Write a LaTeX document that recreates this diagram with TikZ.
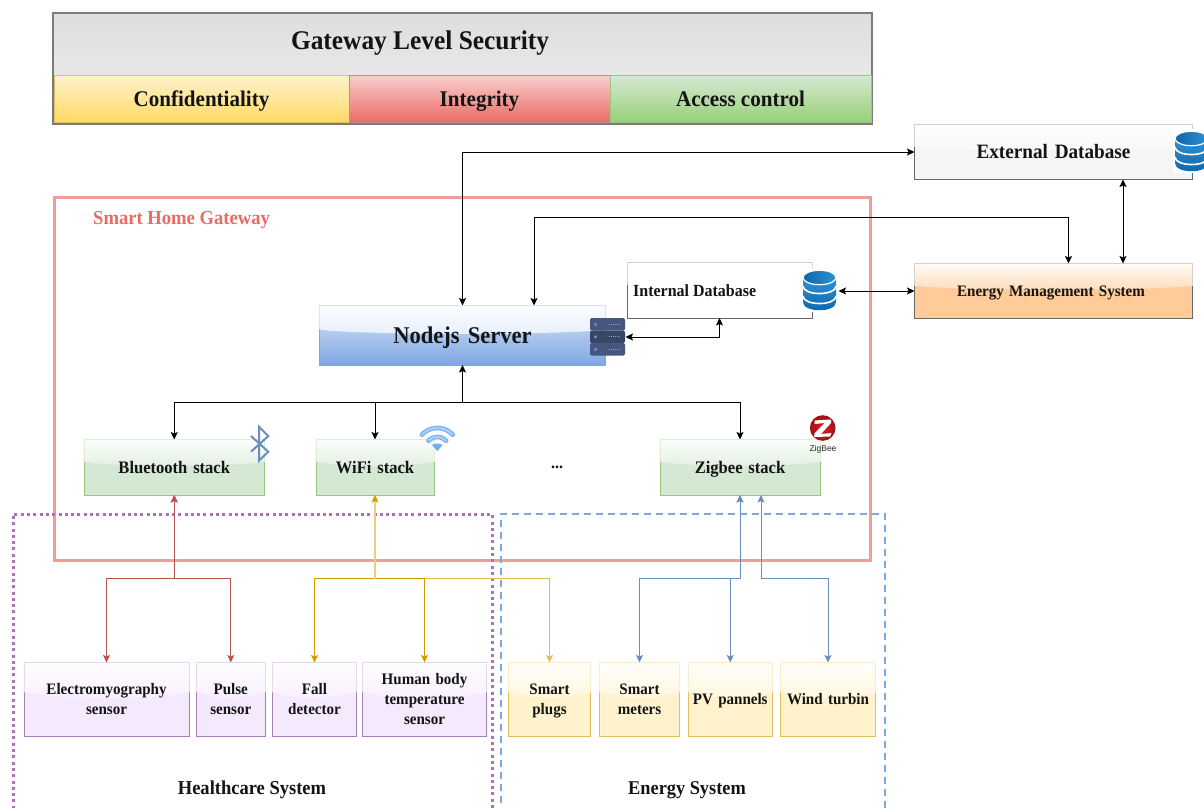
\documentclass[tikz,border=0pt]{standalone}
\usepackage{fontspec}
\setmainfont{Liberation Serif}[FakeStretch=0.94]
\newfontfamily\zbfont{Liberation Sans}
\usetikzlibrary{arrows.meta,calc}
\definecolor{cRed}{HTML}{B85450}
\definecolor{cOrange}{HTML}{D79B00}
\definecolor{cBlue}{HTML}{6C8EBF}
\definecolor{cGate}{HTML}{F19C99}
\definecolor{cLabel}{HTML}{EA6B66}
\definecolor{cPurp}{HTML}{B070B8}
\definecolor{cDash}{HTML}{7EA6E0}
\definecolor{fPurp}{HTML}{F5E9FD}
\definecolor{bPurp}{HTML}{A680B8}
\definecolor{fYel}{HTML}{FFF2CC}
\definecolor{bYel}{HTML}{E3BE5C}
\definecolor{fGrn}{HTML}{D5E8D4}
\definecolor{bGrn}{HTML}{97C77F}
\definecolor{fBlu}{HTML}{DAE8FC}
\definecolor{fOra}{HTML}{FFCC99}
\definecolor{fGry}{HTML}{F5F5F5}
\definecolor{bGry}{HTML}{666666}
\definecolor{srvC}{HTML}{47567E}
\definecolor{srvD}{HTML}{7D85C7}
\definecolor{dbA}{HTML}{2E92D6}
\definecolor{dbB}{HTML}{0F64A8}
\definecolor{ffd}{HTML}{FFD966}
\definecolor{F8C}{HTML}{F8CECC}
\definecolor{EA6}{HTML}{EA6B66}
\definecolor{g97}{HTML}{97D077}
\definecolor{zbA}{HTML}{D8262C}
\definecolor{zbB}{HTML}{A00F15}
\definecolor{wfE}{HTML}{74AEEB}
\definecolor{wfI}{HTML}{A6CFF5}
\tikzset{
  x=1pt,y=-1pt,
  conn/.style={line width=1pt,{Stealth[length=7.5pt,width=7pt,inset=1.5pt]}-{Stealth[length=7.5pt,width=7pt,inset=1.5pt]}},
  oneway/.style={line width=1pt,-{Stealth[length=7.5pt,width=7pt,inset=1.5pt]}},
  bare/.style={inner sep=0pt,outer sep=0pt,align=center,text=black!92},
  lab/.style={inner sep=0pt,font=\fontsize{#1}{#1}\selectfont\bfseries,text=black!92},
}
% one line of text whose capitals are centred on the node
\newcommand{\Lx}[1]{\rule{0pt}{.66em}\smash{#1}}
% named box with a glass highlight over its upper part
\newcommand{\gbx}[9]{%
  \shade[top color=#6,bottom color=#7,draw=#8,line width=1pt] (#2,#3) rectangle (#4,#5);
  \pgfmathsetmacro\gy{#3+0.40*(#5-#3)}%
  \pgfmathsetmacro\gc{#3+0.50*(#5-#3)}%
  \shade[top color=#6!8,bottom color=#6!68]
    (#2-.7,#3-.7) -- (#4+.7,#3-.7) -- (#4+.7,\gy) .. controls (#4-30,\gc) and (#2+30,\gc) .. (#2-.7,\gy) -- cycle;
  \draw[#8!30,line width=1pt] (#2,\gy) -- (#2,#3) -- (#4,#3) -- (#4,\gy);
  \pgfmathsetmacro\bw{#4-#2}\pgfmathsetmacro\bh{#5-#3}%
  \node[bare,anchor=north west,minimum width=\bw pt,minimum height=\bh pt,font=\fontsize{#9}{1.25\dimexpr #9pt\relax}\selectfont\bfseries,text width=\bw pt,align=center,shape=rectangle] (#1) at (#2,#3) {\boxtext};
}
\newcommand{\dbicon}[2]{%
  \begin{scope}[shift={(#1,#2)}]
    \fill[white] (-19,-22) rectangle (19,22);
    \shade[top color=dbA,bottom color=dbB] (-16.5,-12) -- (-16.5,12) .. controls (-16.5,23) and (16.5,23) .. (16.5,12) -- (16.5,-12) -- cycle;
    \draw[white,line width=1.6pt] (-16.5,-4) .. controls (-16.5,6) and (16.5,6) .. (16.5,-4);
    \draw[white,line width=1.6pt] (-16.5,6) .. controls (-16.5,16) and (16.5,16) .. (16.5,6);
    \shade[left color=dbB,right color=dbA,draw=white,line width=1.2pt] (0,-12.5) ellipse [x radius=16.5,y radius=7.2];
  \end{scope}}
\begin{document}
\begin{tikzpicture}
\useasboundingbox (0,0) rectangle (1204,807);
\clip (0,0) rectangle (1204,807);
\fill[white] (0,0) rectangle (1204,807);

% containers
\draw[cGate,line width=3pt] (54,197.5) rectangle (870.5,560);
\node[lab=19.8,text=cLabel,anchor=west] (gwlab) at (93,217.5) {\Lx{Smart Home Gateway}};
\draw[cPurp,line width=3pt,dash pattern=on 3pt off 3.3pt] (13,815) -- (13,514) -- (492,514) -- (492,815);
\draw[cDash,line width=2pt,dash pattern=on 7pt off 5pt] (500.5,815) -- (500.5,514) -- (885,514) -- (885,815);
\node[lab=19.7] (hcs) at (252,788) {\Lx{Healthcare System}};
\node[lab=19.5] (ens) at (687,788) {\Lx{Energy System}};

% security panel
\shade[top color=black!13,bottom color=black!6,draw=black!52,line width=2pt] (53,13) rectangle (872,124);
\node[bare,font=\fontsize{27}{27}\selectfont\bfseries] (sec) at (420,41) {\Lx{Gateway Level Security}};
\shade[top color=fYel,bottom color=ffd,draw=bYel,line width=1pt] (54,75.5) rectangle (349,122.5);
\shade[top color=F8C,bottom color=EA6,draw=cRed!70,line width=1pt] (349,75.5) rectangle (610,122.5);
\shade[top color=fGrn,bottom color=g97,draw=bGrn,line width=1pt] (610,75.5) rectangle (871,122.5);
\node[bare,font=\fontsize{22.4}{22.4}\selectfont\bfseries] (conf) at (201.5,99) {\Lx{Confidentiality}};
\node[bare,font=\fontsize{22.4}{22.4}\selectfont\bfseries] (integ) at (479.5,99) {\Lx{Integrity}};
\node[bare,font=\fontsize{22.4}{22.4}\selectfont\bfseries] (acc) at (740.5,99) {\Lx{Access control}};

% boxes
\def\boxtext{\Lx{External Database}}\gbx{ext}{914.5}{124.5}{1192.5}{179.5}{fGry}{fGry}{bGry}{20.4}
\def\boxtext{\Lx{Energy Management System\hspace{5pt}}}\gbx{ems}{914.5}{263.5}{1192.5}{318.5}{fOra}{fOra}{bGry}{16}
\def\boxtext{}\gbx{int}{627}{262.5}{812}{318}{white}{white}{bGry}{17}
\node[lab=17,anchor=west] (intlab) at (633,291) {\Lx{Internal Database}};
\def\boxtext{\Lx{Nodejs Server}}\gbx{srv}{319.5}{305.5}{605.5}{365}{fBlu}{cDash}{cDash}{24}
\def\boxtext{\Lx{Bluetooth stack}}\gbx{bt}{84}{439.5}{264.5}{495}{fGrn}{fGrn}{bGrn}{17.6}
\def\boxtext{\Lx{WiFi stack}}\gbx{wifi}{316}{439.5}{434}{495}{fGrn}{fGrn}{bGrn}{17.6}
\def\boxtext{\Lx{Zigbee stack}}\gbx{zb}{660}{439.5}{820}{495}{fGrn}{fGrn}{bGrn}{17.6}
\node[lab=17] (dots) at (557,463) {\Lx{...}};

\def\boxtext{\Lx{Electromyography}\\\Lx{sensor}}\gbx{emg}{24}{662.5}{189}{736.5}{fPurp}{fPurp}{bPurp}{16}
\def\boxtext{\Lx{Pulse}\\\Lx{sensor}}\gbx{pulse}{196.5}{662.5}{265}{736.5}{fPurp}{fPurp}{bPurp}{16}
\def\boxtext{\Lx{Fall}\\\Lx{detector}}\gbx{fall}{272.5}{662.5}{356.5}{736.5}{fPurp}{fPurp}{bPurp}{16}
\def\boxtext{\Lx{Human body}\\\Lx{temperature}\\\Lx{sensor}}\gbx{human}{362.5}{662.5}{486.5}{736.5}{fPurp}{fPurp}{bPurp}{16}
\def\boxtext{\Lx{Smart}\\\Lx{plugs}}\gbx{plugs}{508.5}{662.5}{590.5}{736.5}{fYel}{fYel}{bYel}{16}
\def\boxtext{\Lx{Smart}\\\Lx{meters}}\gbx{meters}{599.5}{662.5}{679.5}{736.5}{fYel}{fYel}{bYel}{16}
\def\boxtext{\Lx{PV pannels}}\gbx{pv}{688}{662.5}{772.5}{736.5}{fYel}{fYel}{bYel}{16}
\def\boxtext{\Lx{Wind turbin}}\gbx{wind}{780.5}{662.5}{875.5}{736.5}{fYel}{fYel}{bYel}{16}

% icons
\dbicon{819.5}{290}
\dbicon{1191.5}{151}
\coordinate (dbE) at (838.5,291);
% server icon
\foreach \yy/\cc in {318/srvC,330.5/srvC!80!black,343/srvC}{
  \fill[\cc,rounded corners=2pt] (590,\yy) rectangle ++(35,12.6);
  \fill[srvD] (595.5,\yy+6.3) circle (1.7);
  \draw[srvD!80!white,line width=1.3pt,dash pattern=on 1pt off 1pt] (609,\yy+6.3) -- (621,\yy+6.3);
}
\coordinate (srvI) at (625.5,337);
% bluetooth
\draw[cBlue,line width=2pt,line join=miter] (251,436) -- (268.3,451.7) -- (259,460.7) -- (259,426.7) -- (268.3,436) -- (251,451.7);
% wifi
\foreach \rr in {21,12}{
  \draw[wfE,line width=4.6pt,line cap=round] plot[domain=-137:-43,samples=17] ({437.3+\rr*cos(\x)},{449+\rr*sin(\x)});
  \draw[wfI,line width=2.4pt,line cap=round] plot[domain=-137:-43,samples=17] ({437.3+\rr*cos(\x)},{449+\rr*sin(\x)});
}
\fill[wfE] (437.3,451) -- (432,445) .. controls (435,443) and (439.5,443) .. (442.6,445) -- cycle;
% zigbee
\shade[inner color=zbA,outer color=zbB] (822.7,428) circle (12.8);
\fill[white] (814.5,420.5) -- (831,419.5) -- (831,423) -- (821,434) -- (831.5,433) -- (830,436.5) -- (814,437) -- (814.5,433.5) -- (824.5,423) -- (814.5,424) -- cycle;
\node[bare,font=\zbfont\fontsize{8.5}{8.5}\selectfont,text=black!85] (zbt) at (823,449.5) {ZigBee};

% connectors (black)
\coordinate (srvB) at (534,305.5);
\coordinate (emsA) at (1068.5,263.5);
\coordinate (emsB) at (1123,263.5);
\coordinate (extB) at (1123,179.5);
\coordinate (bus) at (462.5,402.5);
\draw[conn] (srv.north) |- (ext.west);
\draw[conn] (srvB) -- (534,217.5) -| (emsA);
\draw[conn] (extB) -- (emsB);
\draw[conn] (dbE) -- (dbE -| ems.west);
\draw[conn] (srvI) -| (int.south);
\draw[conn] (srv.south) -- (bus) -| (bt.north);
\draw[oneway] (bus) -| (wifi.north);
\draw[oneway] (bus) -| (zb.north);

% connectors (colour)
\coordinate (zb2) at (761,495);
\coordinate (wj) at ($(wifi.south)+(0,83.5)$);
\draw[conn,cRed] (bt.south) -- ++(0,83.5) -| (emg.north);
\draw[conn,cRed] (bt.south) -- ++(0,83.5) -| (pulse.north);
\draw[oneway,cOrange!65] (wj) -| (plugs.north);
\draw[oneway,cOrange] (wj) -| (fall.north);
\draw[oneway,cOrange] (wj) -| (human.north);
\draw[line width=1.6pt,cOrange!50,{Stealth[length=7.5pt,width=7pt,inset=1.5pt,color=cOrange]}-] (wifi.south) -- (wj);
\draw[conn,cBlue] (zb.south) -- ++(0,83.5) -| (meters.north);
\draw[conn,cBlue] (zb.south) -- ++(0,83.5) -| (pv.north);
\draw[conn,cBlue] (zb2) -- ++(0,83.5) -| (wind.north);
\end{tikzpicture}
\end{document}
